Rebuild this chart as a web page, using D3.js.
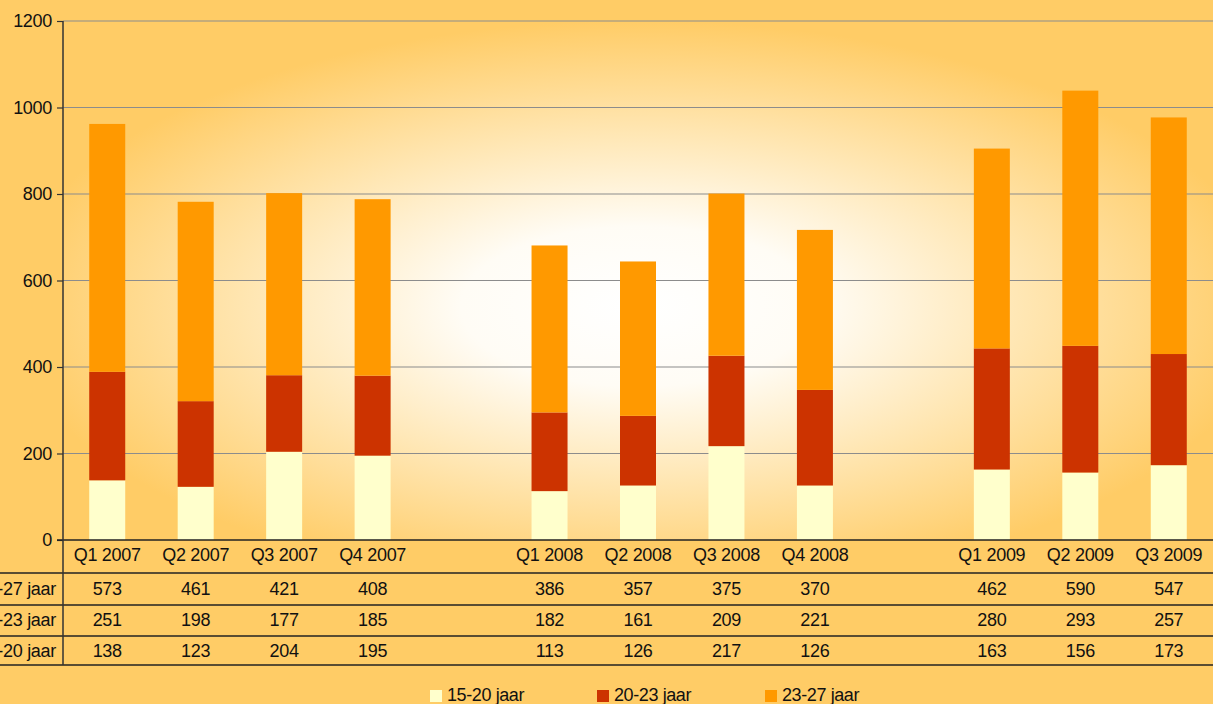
<!DOCTYPE html>
<html><head><meta charset="utf-8">
<script src="https://cdn.jsdelivr.net/npm/d3@7"></script>
<style>
html,body{margin:0;padding:0;background:#FFCC66;}
svg{display:block;font-family:"Liberation Sans",Arial,sans-serif;}
</style></head>
<body>
<svg id="chart" width="1213" height="704"></svg>
<script>
const categories = ["Q1 2007","Q2 2007","Q3 2007","Q4 2007","","Q1 2008","Q2 2008","Q3 2008","Q4 2008","","Q1 2009","Q2 2009","Q3 2009"];
const seriesNames = ["15-20 jaar","20-23 jaar","23-27 jaar"];
const s1520 = [138,123,204,195,null,113,126,217,126,null,163,156,173];
const s2023 = [251,198,177,185,null,182,161,209,221,null,280,293,257];
const s2327 = [573,461,421,408,null,386,357,375,370,null,462,590,547];
const colors = ["#FFFFCC","#CC3300","#FF9900"];
const yTicks = [0,200,400,600,800,1000,1200];

const W = 1213, H = 704;
const m = {left:63, right:1213, top:21, bottom:540};
const FS = 18;
const svg = d3.select("#chart");

const defs = svg.append("defs");
const grad = defs.append("radialGradient").attr("id","bg")
  .attr("cx","0.5").attr("cy","0.55").attr("r","0.55");
grad.append("stop").attr("offset","0").attr("stop-color","#FFFFFF");
grad.append("stop").attr("offset","0.28").attr("stop-color","#FFFCF5");
grad.append("stop").attr("offset","0.6").attr("stop-color","#FFE7B5");
grad.append("stop").attr("offset","1").attr("stop-color","#FFCC66");

svg.append("rect").attr("x",0).attr("y",0).attr("width",W).attr("height",H).attr("fill","#FFCC66");
svg.append("rect").attr("x",m.left).attr("y",m.top).attr("width",m.right-m.left).attr("height",m.bottom-m.top).attr("fill","url(#bg)");

const x = d3.scaleBand().domain(d3.range(categories.length)).range([m.left,m.right]).paddingInner(0);
const y = d3.scaleLinear().domain([0,1200]).range([m.bottom,m.top]);

// gridlines
svg.append("g").selectAll("line").data(yTicks.filter(d=>d>0)).join("line")
  .attr("x1",m.left).attr("x2",m.right).attr("y1",d=>y(d)).attr("y2",d=>y(d))
  .attr("stroke","#8C8C8C").attr("stroke-width",1.2);

// stacked bars
const rows = categories.map((c,i)=>({i, a:s1520[i], b:s2023[i], c:s2327[i]}));
const stack = d3.stack().keys(["a","b","c"]).value((d,k)=>d[k]||0)(rows);
const bw = 36;
svg.append("g").selectAll("g").data(stack).join("g").attr("fill",(d,i)=>colors[i])
  .selectAll("rect").data(d=>d.filter(p=>p.data.a!=null)).join("rect")
  .attr("x",d=>x(d.data.i)+x.bandwidth()/2-bw/2).attr("width",bw)
  .attr("y",d=>y(d[1])).attr("height",d=>y(d[0])-y(d[1]));

// y axis
const yAxis = d3.axisLeft(y).tickValues(yTicks).tickSize(6).tickPadding(5).tickFormat(d3.format("d"));
const ga = svg.append("g").attr("transform",`translate(${m.left},0)`).call(yAxis);
ga.select(".domain").remove();
ga.selectAll(".tick line").attr("stroke","#333").attr("stroke-width",1.2);
ga.selectAll(".tick text").attr("font-size",FS).attr("fill","#111").attr("font-family","Liberation Sans, Arial, sans-serif").attr("letter-spacing","-0.3");

// table lines
const tableLines = [540,573,605,636,665];
svg.append("g").selectAll("line").data(tableLines).join("line")
  .attr("x1",(d,i)=>i===0?m.left-6:0).attr("x2",W).attr("y1",d=>d).attr("y2",d=>d)
  .attr("stroke","#222").attr("stroke-width",1.3);
svg.append("line").attr("x1",m.left).attr("x2",m.left).attr("y1",m.top).attr("y2",665)
  .attr("stroke","#333").attr("stroke-width",1.5);

// category labels
svg.append("g").selectAll("text").data(categories).join("text")
  .attr("x",(d,i)=>x(i)+x.bandwidth()/2).attr("y",555)
  .attr("text-anchor","middle").attr("dominant-baseline","central")
  .attr("font-size",FS).attr("letter-spacing","-0.3").attr("fill","#111").text(d=>d);

// table rows
const tableRows = [{name:"23-27 jaar", vals:s2327, y:589},{name:"20-23 jaar", vals:s2023, y:620},{name:"15-20 jaar", vals:s1520, y:651}];
const tr = svg.append("g").selectAll("g").data(tableRows).join("g");
tr.append("text").attr("x",56).attr("y",d=>d.y).attr("text-anchor","end").attr("dominant-baseline","central")
  .attr("font-size",FS).attr("letter-spacing","-0.3").attr("fill","#111").text(d=>d.name);
tr.selectAll("text.v").data(d=>d.vals.map((v,i)=>({v,i,y:d.y})).filter(o=>o.v!=null)).join("text").attr("class","v")
  .attr("x",o=>x(o.i)+x.bandwidth()/2).attr("y",o=>o.y)
  .attr("text-anchor","middle").attr("dominant-baseline","central")
  .attr("font-size",FS).attr("letter-spacing","-0.3").attr("fill","#111").text(o=>o.v);

// legend
const legX = [430,597,765];
const lg = svg.append("g").selectAll("g").data(seriesNames).join("g")
  .attr("transform",(d,i)=>`translate(${legX[i]},690)`);
lg.append("rect").attr("x",0).attr("y",0).attr("width",12).attr("height",12).attr("fill",(d,i)=>colors[i]);
lg.append("text").attr("x",17).attr("y",5).attr("dominant-baseline","central")
  .attr("font-size",FS).attr("letter-spacing","-0.4").attr("fill","#111").text(d=>d);
</script>
</body></html>
